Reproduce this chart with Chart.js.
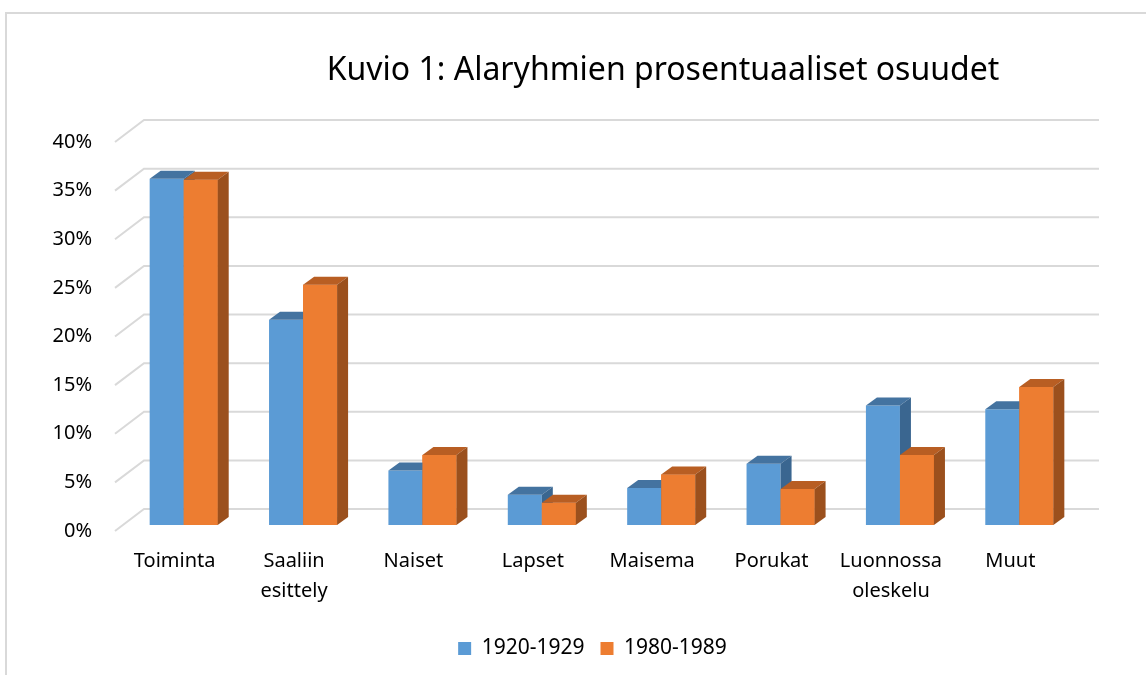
<!DOCTYPE html>
<html>
<head>
    <meta charset="UTF-8">
    <title>Kuvio 1</title>
    <script src="https://cdn.jsdelivr.net/npm/chart.js@4"></script>
    <style>
      body { margin: 0; background: #fff; }
      #wrap { position: relative; width: 1146px; height: 675px; overflow: hidden; }
      #frame { position: absolute; left: 5px; top: 12px; right: -4px; bottom: -4px;
               border-top: 2px solid #d9d9d9; border-left: 2px solid #d9d9d9; }
      canvas { position: absolute; left: 0; top: 0; }
    </style>
</head>
<body>
  <div id="wrap">
    <div id="frame"></div>
    <canvas id="myChart" width="1146" height="675"></canvas>
  </div>

  <script>
      // values (percent)
      const categories = ['Toiminta', ['Saaliin', 'esittely'], 'Naiset', 'Lapset', 'Maisema', 'Porukat', ['Luonnossa', 'oleskelu'], 'Muut'];
      const series1920 = [35.6, 21.1, 5.6, 3.1, 3.8, 6.3, 12.3, 11.9];
      const series1980 = [35.5, 24.7, 7.2, 2.3, 5.2, 3.7, 7.2, 14.2];
      const yMax = 40;
      const yStep = 5;

      const titleText = 'Kuvio 1: Alaryhmien prosentuaaliset osuudet';

      // fake 3d: wall depth, bar offset and bar depth
      const wall = { dx: 29, dy: -22 };
      const shift = { dx: 9, dy: -6 };
      const deep = { dx: 11, dy: -8 };
      const shades = [
        { top: '#4473a0', side: '#3a6690' },
        { top: '#b85e23', side: '#9b501d' }
      ];

      Chart.defaults.font.family = '"Noto Sans", "Open Sans", sans-serif';
      Chart.defaults.font.size = 20;
      Chart.defaults.color = '#000';

      function poly(ctx, pts, color) {
        ctx.beginPath();
        ctx.moveTo(pts[0][0], pts[0][1]);
        for (let i = 1; i < pts.length; i++) ctx.lineTo(pts[i][0], pts[i][1]);
        ctx.closePath();
        ctx.fillStyle = color;
        ctx.fill();
      }

      function faces(ctx, bar, c) {
        const p = bar.getProps(['x', 'y', 'base', 'width'], true);
        const l = p.x - p.width / 2, r = p.x + p.width / 2;
        poly(ctx, [[l, p.y], [r, p.y], [r + deep.dx, p.y + deep.dy], [l + deep.dx, p.y + deep.dy]], c.top);
        poly(ctx, [[r, p.y], [r + deep.dx, p.y + deep.dy], [r + deep.dx, p.base + deep.dy], [r, p.base]], c.side);
      }

      const fake3d = {
        id: 'fake3d',
        beforeDatasetsDraw(chart) {
          const { ctx, chartArea, scales } = chart;
          const y = scales.y;
          ctx.save();
          ctx.strokeStyle = '#d9d9d9';
          ctx.lineWidth = 2;
          y.ticks.forEach(t => {
            const py = y.getPixelForValue(t.value);
            ctx.beginPath();
            ctx.moveTo(chartArea.left, py);
            ctx.lineTo(chartArea.left + wall.dx, py + wall.dy);
            ctx.lineTo(chartArea.right + wall.dx, py + wall.dy);
            ctx.stroke();
          });
          ctx.restore();
          ctx.save();
          ctx.translate(shift.dx, shift.dy);
        },
        afterDatasetsDraw(chart) {
          const ctx = chart.ctx;
          const blue = chart.getDatasetMeta(0).data;
          const orange = chart.getDatasetMeta(1).data;
          // blue sits behind orange: its side first, then orange front again
          blue.forEach(bar => faces(ctx, bar, shades[0]));
          orange.forEach(bar => { bar.draw(ctx); faces(ctx, bar, shades[1]); });
          ctx.restore();
        },
        afterDraw(chart) {
          const ctx = chart.ctx;
          ctx.save();
          ctx.font = '32px "Noto Sans", "Open Sans", sans-serif';
          ctx.fillStyle = '#000';
          ctx.textAlign = 'center';
          ctx.textBaseline = 'middle';
          ctx.fillText(titleText, 663, 71);
          ctx.restore();
        }
      };

      const ctx = document.getElementById('myChart').getContext('2d');
      const myChart = new Chart(ctx, {
          type: 'bar',
          data: {
              labels: categories,
              datasets: [{
                  label: '1920-1929',
                  data: series1920,
                  backgroundColor: '#5b9bd5',
                  borderWidth: 0,
                  clip: false
              }, {
                  label: '1980-1989',
                  data: series1980,
                  backgroundColor: '#ed7d31',
                  borderWidth: 0,
                  clip: false
              }]
          },
          plugins: [fake3d],
          options: {
              responsive: false,
              animation: false,
              devicePixelRatio: 1,
              categoryPercentage: 0.57,
              barPercentage: 1,
              layout: { padding: { left: 0, right: 76, top: 142, bottom: 6 } },
              plugins: {
                  title: { display: false },
                  tooltip: { enabled: false },
                  legend: {
                      position: 'bottom',
                      fullSize: false,
                      labels: {
                          boxWidth: 13,
                          boxHeight: 13,
                          padding: 16,
                          font: { size: 21 }
                      }
                  }
              },
              scales: {
                  x: {
                      grid: { display: false, drawTicks: false },
                      border: { display: false },
                      ticks: { padding: 15, font: { size: 20, lineHeight: 1.5 }, maxRotation: 0, autoSkip: false },
                      afterFit: s => { s.height = 91; }
                  },
                  y: {
                      min: 0,
                      max: yMax,
                      grid: { display: false, drawTicks: false },
                      border: { display: false },
                      ticks: { stepSize: yStep, padding: 23, callback: v => v + '%' },
                      afterFit: s => { s.width = 115; }
                  }
              }
          }
      });
  </script>
</body>
</html>
